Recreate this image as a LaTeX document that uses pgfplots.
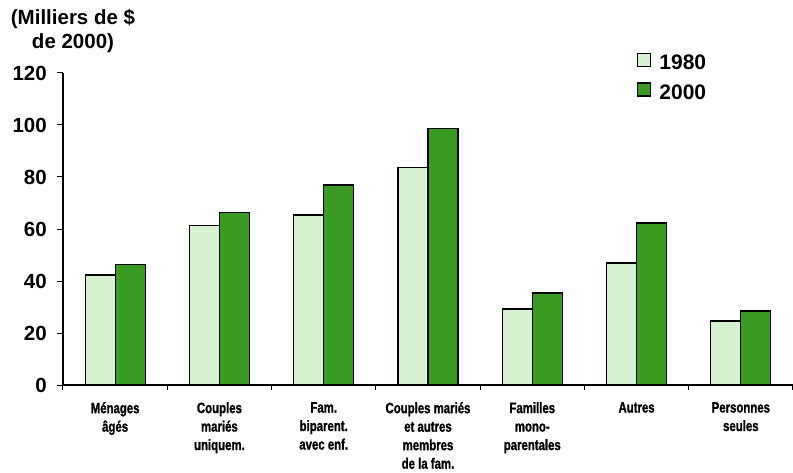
\documentclass[border=0pt]{standalone}
\usepackage{fontspec}
\setmainfont{Liberation Sans}
\newfontfamily\narrowfont[FakeStretch=0.76, FakeBold=1.2]{Liberation Sans Bold}
\usepackage{pgfplots}
\pgfplotsset{compat=1.18}
\definecolor{lightg}{HTML}{D5F1CF}
\definecolor{darkg}{HTML}{3A9A22}
\pgfplotsset{sqlegend/.style={legend image code/.code={\draw[##1, line width=1.2pt] (0pt,-3.5pt) rectangle (13pt,9.5pt);}}}
\begin{document}
\begin{tikzpicture}[x=1pt,y=1pt]
\useasboundingbox (0,0) rectangle (793,472);
\begin{axis}[
  at={(63pt,87pt)}, anchor=south west,
  scale only axis, width=730pt, height=312pt,
  xmin=-0.5, xmax=6.5, ymin=0, ymax=120,
  axis x line=bottom, axis y line=left,
  axis line style={-, line width=1.2pt, black},
  ybar=0pt, bar width=30pt,
  ytick={0,20,...,120},
  xtick={0,...,6},
  minor xtick={-0.5,0.5,...,6.5},
  tick align=outside,
  major tick length=6pt, minor tick length=5pt,
  tick style={black, line width=1pt},
  major x tick style={draw=none},
  /pgf/number format/assume math mode=true,
  yticklabel style={font=\fontsize{20.5}{22}\selectfont\bfseries, anchor=east, inner sep=0pt, xshift=-10pt},
  xticklabels={M\'enages\\\^ag\'es, Couples\\mari\'es\\uniquem., Fam.\\biparent.\\avec enf., Couples mari\'es\\et autres\\membres\\de la fam., Familles\\mono-\\parentales, Autres, Personnes\\seules},
  xticklabel style={font=\narrowfont\fontsize{15}{18.5}\selectfont, align=center, anchor=north, inner sep=0pt, yshift=-11pt},
  legend style={draw=none, fill=none, at={(0.7863,1.0641)}, anchor=north west, inner sep=0pt,
    font=\fontsize{21}{22}\selectfont\bfseries,
    nodes={inner sep=0pt, anchor=west}, row sep=11pt, column sep=8pt},
  legend cell align=left,
  clip=false,
]
\addplot[fill=lightg, draw=black, line width=1.2pt, sqlegend] coordinates {(0,42.3) (1,61.5) (2,65.4) (3,83.8) (4,29.2) (5,46.9) (6,24.6)};
\addplot[fill=darkg, draw=black, line width=1.2pt, sqlegend] coordinates {(0,46.2) (1,66.2) (2,76.9) (3,98.5) (4,35.4) (5,62.3) (6,28.5)};
\legend{1980,2000}
\end{axis}
\node[align=center, font=\bfseries\fontsize{20.5}{24}\selectfont] at (73,441) {(Milliers de \$\\de 2000)};
\end{tikzpicture}
\end{document}
